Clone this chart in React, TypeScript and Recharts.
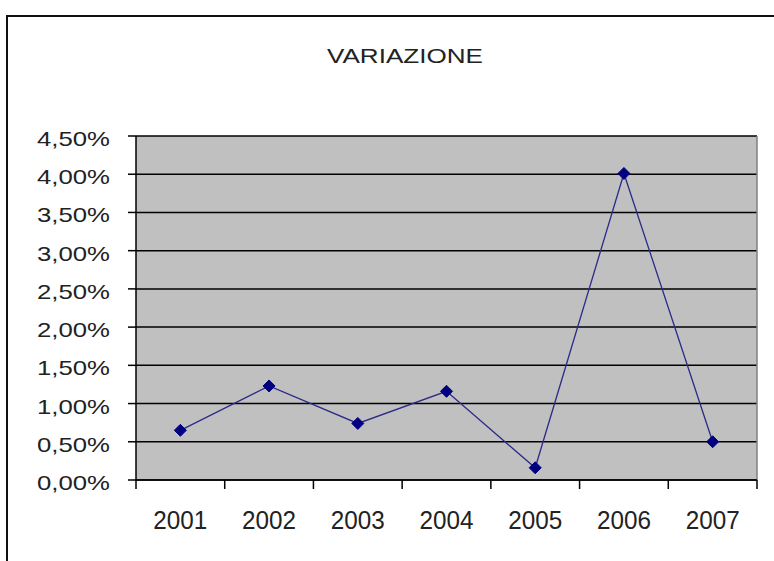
import { CartesianGrid, Line, LineChart, ReferenceLine, XAxis, YAxis } from "recharts";

const years = ["2001", "2002", "2003", "2004", "2005", "2006", "2007"];
const variazione = [0.65, 1.23, 0.74, 1.16, 0.16, 4.01, 0.5];
const yTicks = [0, 0.5, 1, 1.5, 2, 2.5, 3, 3.5, 4, 4.5];
const title = "VARIAZIONE";

const data = years.map((year, i) => ({ pos: i + 0.5, year, value: variazione[i] }));
const boundaryTicks = years.map((_, i) => i).concat(years.length);
const centerTicks = years.map((_, i) => i + 0.5);

const FONT = "'Liberation Sans', Arial, sans-serif";
const pct = (v: number) => v.toFixed(2).replace(".", ",") + "%";

function YTick(props: any) {
  const { x, y, payload } = props;
  return (
    <text x={x} y={y} dy={10} textAnchor="end" fontFamily={FONT} fontSize={21} fill="#222"
      textLength={73} lengthAdjust="spacingAndGlyphs">
      {pct(payload.value)}
    </text>
  );
}

function XTick(props: any) {
  const { x, y, payload } = props;
  const label = years[Math.round(payload.value - 0.5)];
  return (
    <text x={x} y={y} dy={40} textAnchor="middle" fontFamily={FONT} fontSize={25} fill="#222"
      textLength={54} lengthAdjust="spacingAndGlyphs">
      {label}
    </text>
  );
}

function Diamond(props: any) {
  const { cx, cy, index } = props;
  if (cx == null || cy == null) return null;
  const r = 6;
  return (
    <polygon key={`d-${index}`} fill="#000080" stroke="#000080"
      points={`${cx},${cy - r} ${cx + r},${cy} ${cx},${cy + r} ${cx - r},${cy}`} />
  );
}

export default function App() {
  return (
    <div style={{ position: "absolute", left: 0, top: 0, width: 774, height: 561, overflow: "hidden", background: "#fff" }}>
      <div style={{ position: "absolute", left: 6, top: 15, width: 820, height: 600, border: "2px solid #111" }} />
      <svg style={{ position: "absolute", left: 0, top: 0 }} width={774} height={100}>
        <text x={405} y={63} textAnchor="middle" fontFamily={FONT} fontSize={21} fill="#222"
          textLength={156} lengthAdjust="spacingAndGlyphs">
          {title}
        </text>
      </svg>
      <div style={{ position: "absolute", left: 0, top: 0 }}>
        <LineChart width={774} height={561} data={data} margin={{ top: 136, right: 17, bottom: 0, left: 0 }}>
          <CartesianGrid vertical={false} stroke="#000" strokeWidth={1.5} fill="#c0c0c0" xAxisId="a" />
          <XAxis xAxisId="a" dataKey="pos" type="number" domain={[0, years.length]} ticks={boundaryTicks}
            tickFormatter={() => ""} tickSize={9} height={9} stroke="#000" strokeWidth={1.5} />
          <XAxis xAxisId="b" dataKey="pos" type="number" domain={[0, years.length]} ticks={centerTicks}
            tick={<XTick />} tickLine={false} axisLine={false} tickSize={0} tickMargin={0} height={72} />
          <YAxis domain={[0, 4.5]} ticks={yTicks} tick={<YTick />} tickSize={8} tickMargin={18} width={136}
            stroke="#000" strokeWidth={1.5} interval={0} />
          <ReferenceLine xAxisId="a" x={years.length} stroke="#808080" strokeWidth={1.5} />
          <Line xAxisId="a" dataKey="value" type="linear" stroke="#2b2b8a" strokeWidth={1.3}
            dot={<Diamond />} activeDot={false} isAnimationActive={false} />
        </LineChart>
      </div>
    </div>
  );
}
